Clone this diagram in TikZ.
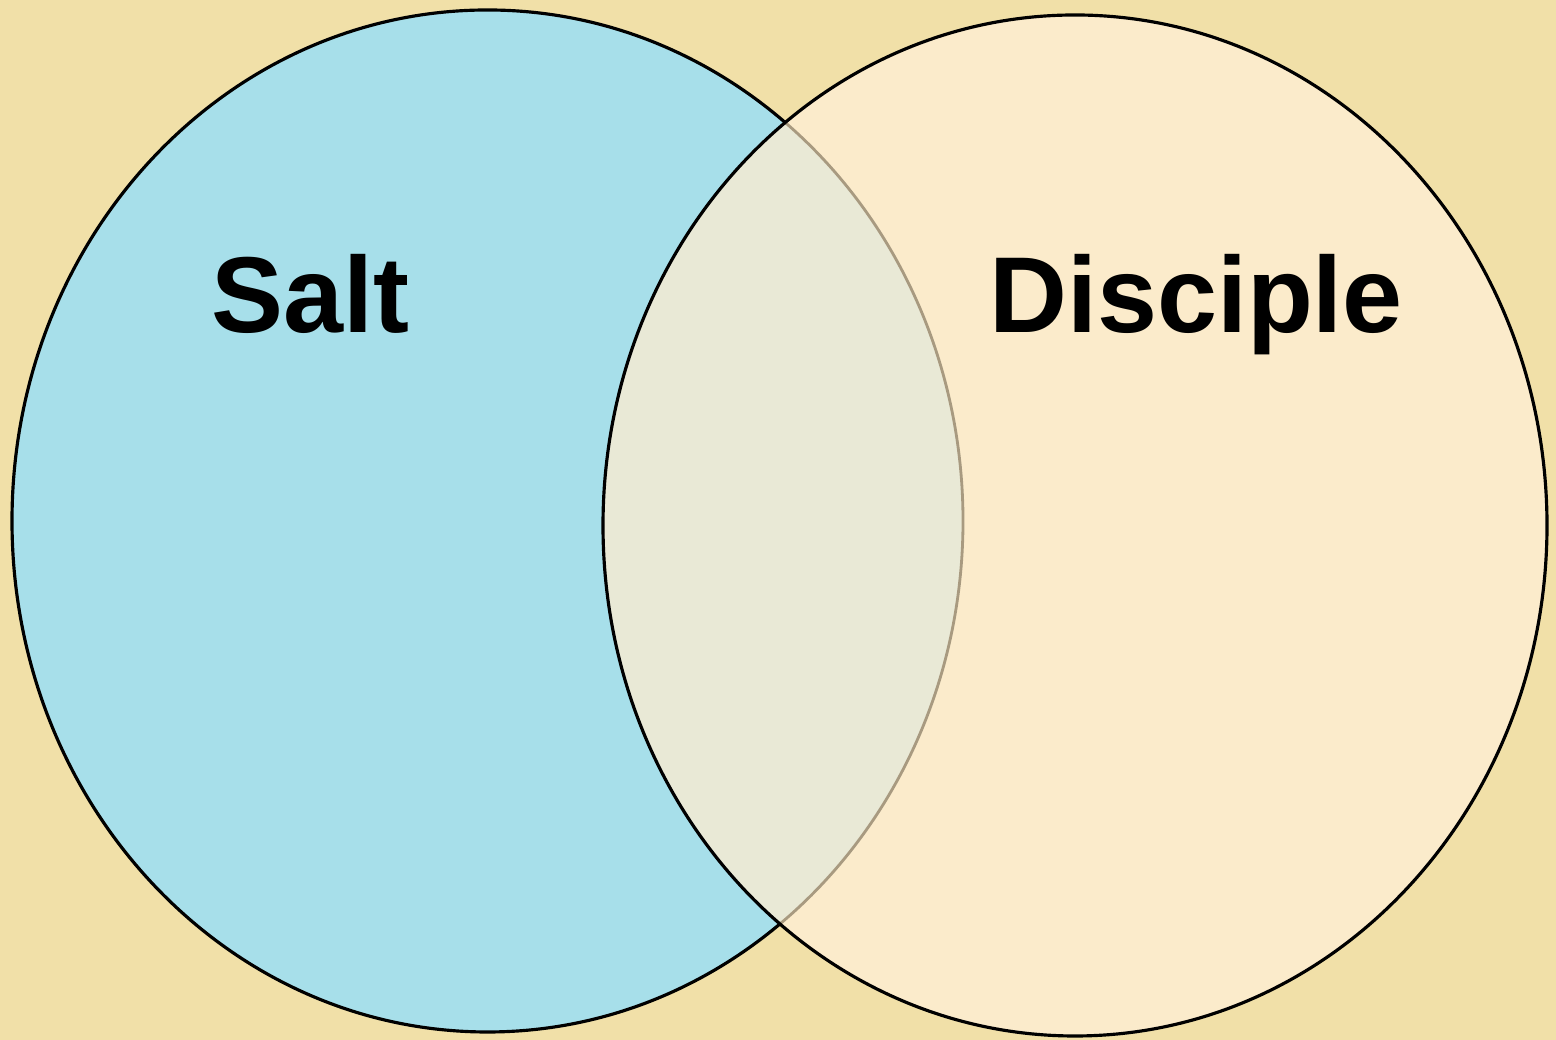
\documentclass[tikz,border=0pt]{standalone}
\usepackage{fontspec}
\setmainfont{Liberation Sans}
\definecolor{parchment}{HTML}{F1E0A8}
\definecolor{saltblue}{HTML}{A7DFEA}
\definecolor{cream}{HTML}{FBEBCB}
\definecolor{overlap}{HTML}{E9E9D6}
\definecolor{faintline}{HTML}{A89A80}

\begin{document}
\begin{tikzpicture}[scale=1.0, every node/.style={font=\bfseries\fontsize{30.7}{36}\selectfont}]
% Ellipse parameters
\def\rxA{4.755}
\def\ryA{5.11}
\def\rxB{4.72}
\def\ryB{5.105}
\coordinate (A) at (4.875,5.19);   % Salt
\coordinate (B) at (10.75,5.145);  % Disciple

% Background
\fill[parchment] (0,0) rectangle (15.56,10.40);
\useasboundingbox (0,0) rectangle (15.56,10.40);

% Draw ellipses
\fill[saltblue] (A) ellipse [x radius=\rxA, y radius=\ryA];
\draw[line width=0.9pt] (A) ellipse [x radius=\rxA, y radius=\ryA];
\fill[cream] (B) ellipse [x radius=\rxB, y radius=\ryB];

% Overlap region
\begin{scope}
\clip (B) ellipse [x radius=\rxB, y radius=\ryB];
\fill[overlap] (A) ellipse [x radius=\rxA, y radius=\ryA];
\draw[faintline, line width=0.8pt] (A) ellipse [x radius=\rxA, y radius=\ryA];
\end{scope}
\draw[line width=0.9pt] (B) ellipse [x radius=\rxB, y radius=\ryB];

% Labels
\node[anchor=base] (salt) at (3.10,7.07) {Salt};
\node[anchor=base] (disciple) at (11.96,7.07) {Disciple};
\end{tikzpicture}
\end{document}
